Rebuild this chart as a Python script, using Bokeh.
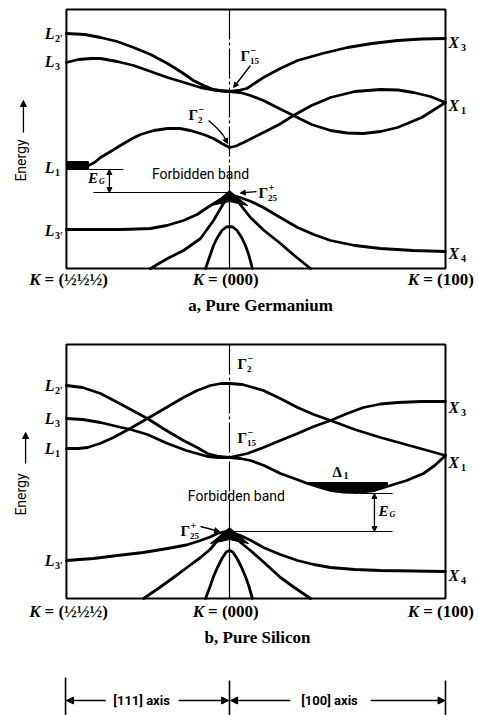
from bokeh.plotting import figure
from bokeh.layouts import column
from bokeh.models import Range1d, Arrow, NormalHead
from bokeh.core.properties import value
from bokeh.embed import file_html
from bokeh.resources import INLINE

# ---------------- k positions of symmetry points ----------------
K_L, K_G, K_X = -0.755, 0.0, 1.0

# ---------------- Germanium bands (k, energy in arbitrary units) ----------------
ge_frame_E = [-7.4, 18.5]
ge_L2p_k = [-0.755, -0.67, -0.597, -0.52, -0.444, -0.365, -0.287, -0.22, -0.167, -0.12, -0.074, -0.035, 0]
ge_L2p_E = [16.1, 16.0, 15.7, 15.3, 14.7, 14.0, 13.1, 12.2, 11.4, 10.9, 10.5, 10.35, 10.3]
ge_L3_k = [-0.755, -0.70, -0.64, -0.597, -0.52, -0.444, -0.365, -0.287, -0.21, -0.134, -0.07, 0]
ge_L3_E = [13.2, 13.5, 13.6, 13.6, 13.3, 12.9, 12.3, 11.7, 11.2, 10.7, 10.45, 10.3]
ge_X3_k = [0, 0.04, 0.08, 0.157, 0.235, 0.315, 0.43, 0.546, 0.66, 0.778, 0.89, 1.0]
ge_X3_E = [10.3, 10.4, 10.6, 11.7, 12.6, 13.4, 14.1, 14.7, 15.1, 15.4, 15.55, 15.6]
ge_G15X1_k = [0, 0.05, 0.097, 0.157, 0.23, 0.296, 0.38, 0.468, 0.545, 0.62, 0.70, 0.778, 0.89, 1.0]
ge_G15X1_E = [10.3, 10.2, 9.9, 9.4, 8.6, 7.9, 7.0, 6.4, 6.15, 6.1, 6.3, 6.7, 7.7, 9.2]
ge_G2X1_k = [0, 0.03, 0.065, 0.157, 0.23, 0.296, 0.38, 0.468, 0.58, 0.699, 0.78, 0.852, 0.93, 1.0]
ge_G2X1_E = [4.7, 4.85, 5.2, 6.2, 7.0, 7.9, 8.9, 9.7, 10.3, 10.5, 10.45, 10.2, 9.8, 9.2]
ge_L1_k = [-0.653, -0.625, -0.597, -0.55, -0.505, -0.45, -0.412, -0.35, -0.287, -0.23, -0.181, -0.12, -0.074, -0.035, 0]
ge_L1_E = [2.9, 3.2, 3.7, 4.3, 4.9, 5.6, 6.0, 6.4, 6.6, 6.6, 6.4, 6.0, 5.6, 5.1, 4.7]
ge_L1bar_k = [-0.755, -0.653]
ge_L1bar_E = [2.5, 3.3]
ge_L3p_k = [-0.755, -0.6, -0.505, -0.43, -0.366, -0.29, -0.213, -0.15, -0.102, -0.05, 0]
ge_L3p_E = [-3.5, -3.5, -3.5, -3.45, -3.4, -3.1, -2.6, -2.0, -1.3, -0.6, 0]
ge_X4_k = [0, 0.05, 0.1, 0.157, 0.235, 0.315, 0.39, 0.468, 0.58, 0.699, 0.85, 1.0]
ge_X4_E = [0, -0.3, -0.7, -1.3, -2.3, -3.3, -4.0, -4.6, -5.1, -5.4, -5.6, -5.7]
ge_V2L_k = [-0.366, -0.287, -0.213, -0.134, -0.074, -0.028, 0]
ge_V2L_E = [-7.4, -6.4, -5.6, -4.4, -2.6, -0.9, -0.1]
ge_V2R_k = [0, 0.046, 0.097, 0.16, 0.236, 0.3, 0.375]
ge_V2R_E = [-0.1, -0.9, -2.3, -3.6, -4.9, -6.1, -7.4]
ge_V3_k = [-0.111, -0.09, -0.074, -0.056, -0.035, -0.015, 0, 0.015, 0.035, 0.056, 0.074, 0.09, 0.106]
ge_V3_E = [-7.4, -6.1, -5.1, -4.3, -3.6, -3.25, -3.2, -3.25, -3.6, -4.3, -5.1, -6.1, -7.4]
ge_blob_k = [-0.085, -0.04, 0, 0.04, 0.085, 0.04, 0, -0.04]
ge_blob_E = [-1.1, -0.35, 0.4, -0.35, -1.1, -0.9, -0.7, -0.9]
ge_EG_top = 2.5
ge_EG_bot = 0.2

# ---------------- Silicon bands ----------------
si_frame_E = [-6.8, 18.6]
si_L2p_k = [-0.755, -0.68, -0.597, -0.5, -0.38, -0.3, -0.213, -0.15, -0.102, -0.05, 0]
si_L2p_E = [14.5, 14.3, 13.7, 12.6, 11.2, 10.1, 9.0, 8.3, 7.7, 7.4, 7.3]
si_L3_k = [-0.755, -0.68, -0.597, -0.52, -0.458, -0.38, -0.287, -0.2, -0.102, -0.05, 0]
si_L3_E = [11.2, 11.1, 10.8, 10.4, 10.1, 9.6, 8.7, 8.0, 7.4, 7.3, 7.3]
si_L1_k = [-0.755, -0.7, -0.657, -0.6, -0.537, -0.46, -0.38, -0.3, -0.213, -0.15, -0.088, -0.04, 0]
si_L1_E = [8.2, 8.2, 8.3, 8.7, 9.3, 10.2, 11.2, 12.2, 13.3, 14.0, 14.5, 14.7, 14.7]
si_G2X1_k = [0, 0.06, 0.157, 0.235, 0.315, 0.39, 0.468, 0.58, 0.699, 0.85, 1.0]
si_G2X1_E = [14.7, 14.6, 14.0, 13.2, 12.3, 11.6, 11.0, 10.1, 9.3, 8.4, 7.5]
si_X3_k = [0, 0.083, 0.157, 0.235, 0.315, 0.39, 0.468, 0.545, 0.62, 0.7, 0.778, 0.89, 1.0]
si_X3_E = [7.3, 7.7, 8.3, 9.0, 9.7, 10.4, 11.0, 11.7, 12.3, 12.65, 12.8, 12.9, 12.9]
si_D1_k = [0, 0.05, 0.097, 0.16, 0.236, 0.3, 0.361, 0.42, 0.468, 0.53, 0.593, 0.67, 0.745, 0.82, 0.898, 0.95, 1.0]
si_D1_E = [7.3, 7.2, 7.0, 6.5, 5.7, 5.2, 4.7, 4.3, 4.0, 3.85, 3.8, 4.0, 4.5, 5.0, 5.7, 6.5, 7.5]
si_lens_k = [0.366, 0.42, 0.468, 0.53, 0.593, 0.67, 0.731, 0.731, 0.366]
si_lens_E = [4.7, 4.3, 4.0, 3.85, 3.8, 4.0, 4.4, 4.8, 4.8]
si_L3p_k = [-0.755, -0.63, -0.519, -0.4, -0.287, -0.2, -0.134, -0.09, -0.056, 0]
si_L3p_E = [-3.0, -2.8, -2.5, -2.2, -1.8, -1.45, -1.0, -0.65, -0.3, 0]
si_X4_k = [0, 0.05, 0.1, 0.157, 0.235, 0.315, 0.39, 0.468, 0.58, 0.699, 0.85, 1.0]
si_X4_E = [-0.1, -0.5, -1.0, -1.7, -2.4, -3.0, -3.4, -3.7, -3.9, -4.0, -4.05, -4.1]
si_V2L_k = [-0.398, -0.33, -0.259, -0.2, -0.134, -0.09, -0.056, -0.025, 0]
si_V2L_E = [-6.8, -5.8, -4.7, -3.75, -2.7, -1.9, -1.0, -0.5, -0.2]
si_V2R_k = [0, 0.046, 0.097, 0.16, 0.236, 0.3, 0.375]
si_V2R_E = [-0.3, -1.1, -2.0, -3.2, -4.7, -5.7, -6.8]
si_V3_k = [-0.111, -0.09, -0.074, -0.056, -0.035, -0.015, 0, 0.015, 0.035, 0.056, 0.074, 0.09, 0.106]
si_V3_E = [-6.8, -5.6, -4.6, -3.7, -2.8, -2.15, -2.0, -2.15, -2.8, -3.7, -4.6, -5.6, -6.8]
si_blob_k = [-0.088, -0.04, 0, 0.04, 0.088, 0.04, 0, -0.04]
si_blob_E = [-1.3, -0.45, 0.3, -0.45, -1.3, -1.1, -0.9, -1.1]
si_EG_top = 3.7
si_EG_bot = -0.1

# ---------------- labels ----------------
ge_left_main = ["L", "L", "L", "L"]
ge_left_sub = ["2\u2032", "3", "1", "3\u2032"]
ge_left_E = [16.1, 13.3, 2.7, -3.6]
ge_right_sub = ["3", "1", "4"]
ge_right_E = [15.2, 8.9, -5.9]
si_left_main = ["L", "L", "L", "L"]
si_left_sub = ["2\u2032", "3", "1", "3\u2032"]
si_left_E = [14.5, 11.2, 8.2, -3.0]
si_right_sub = ["3", "1", "4"]
si_right_E = [12.3, 6.8, -4.5]
k_tick_text = ["= (\u00bd\u00bd\u00bd)", "= (000)", "= (100)"]
k_tick_anchor = [-0.875, -0.118, 0.878]

SERIF = "Liberation Serif"
SANS = "Roboto"

X0, X1 = -229 / 216, 250 / 216


def txt(p, x, y, s, size, font=SERIF, style="bold", align="left",
        baseline="middle", xo=0, yo=0, angle=0.0):
    p.text(x=[x], y=[y], text=[s], text_font=value(font),
           text_font_size=value(f"{size}px"), text_font_style=style,
           text_align=align, text_baseline=baseline, x_offset=xo,
           y_offset=yo, angle=angle, text_color="black")


def gamma(p, k, E, sub, sup):
    txt(p, k, E, "\u0393", 15, style="bold")
    txt(p, k, E, sub, 9, style="bold", xo=9.5, yo=5)
    txt(p, k, E, sup, 10, style="bold", xo=10, yo=-5)


def arrow(p, x0, y0, x1, y1, size=6, both=False):
    head = NormalHead(size=size, fill_color="black", line_color="black")
    start = NormalHead(size=size, fill_color="black", line_color="black") if both else None
    p.add_layout(Arrow(end=head, start=start, x_start=x0, y_start=y0,
                       x_end=x1, y_end=y1, line_width=1.3, line_color="black"))


def make_fig(h, y0, y1):
    p = figure(width=479, height=h, x_range=Range1d(X0, X1),
               y_range=Range1d(y0, y1), output_backend="svg",
               toolbar_location=None, x_axis_location=None,
               y_axis_location=None, min_border=0, tools="")
    p.grid.visible = False
    p.outline_line_color = None
    p.background_fill_color = "white"
    p.border_fill_color = "white"
    return p


def panel(p, frame_E, bands_k, bands_E, blob_k, blob_E, left_main, left_sub,
          left_E, right_sub, right_E, kt_E, caption, cap_k, cap_E):
    # frame
    p.quad(left=[K_L], right=[K_X], bottom=[frame_E[0]], top=[frame_E[1]],
           fill_color=None, line_color="black", line_width=2)
    # centre line at Gamma
    p.line([K_G, K_G], [frame_E[1], 0], line_color="black", line_width=1.2,
           line_dash="30 3 3 3")
    p.line([K_G, K_G], [0, frame_E[0]], line_color="black", line_width=1.2)
    # bands
    p.multi_line(xs=bands_k, ys=bands_E, line_color="black", line_width=2.8,
                 line_join="round", line_cap="round")
    p.patch(blob_k, blob_E, fill_color="black", line_color="black", line_width=1)
    # left symmetry labels
    for m, s, e in zip(left_main, left_sub, left_E):
        txt(p, -0.81, e, m, 16, style="bold italic", align="right")
        txt(p, -0.81, e, s, 10, style="bold", xo=0.5, yo=5)
    for s, e in zip(right_sub, right_E):
        txt(p, 1.014, e, "X", 16, style="bold italic")
        txt(p, 1.014, e, s, 10, style="bold", xo=12.5, yo=5)
    # k labels
    for a, t in zip(k_tick_anchor, k_tick_text):
        txt(p, a, kt_E, "K", 17, style="bold italic", align="right")
        txt(p, a, kt_E, t, 17, style="bold", xo=4)
    txt(p, cap_k, cap_E, caption, 17, style="bold", align="center")


# ================= Germanium =================
ge = make_fig(320, -12.6, 19.4)
panel(ge, ge_frame_E,
      [ge_L2p_k, ge_L3_k, ge_X3_k, ge_G15X1_k, ge_G2X1_k, ge_L1_k, ge_L3p_k,
       ge_X4_k, ge_V2L_k, ge_V2R_k, ge_V3_k],
      [ge_L2p_E, ge_L3_E, ge_X3_E, ge_G15X1_E, ge_G2X1_E, ge_L1_E, ge_L3p_E,
       ge_X4_E, ge_V2L_E, ge_V2R_E, ge_V3_E],
      ge_blob_k, ge_blob_E, ge_left_main, ge_left_sub, ge_left_E,
      ge_right_sub, ge_right_E, -8.5, "a, Pure Germanium", 0.144, -11.1)
ge.quad(left=[ge_L1bar_k[0]], right=[ge_L1bar_k[1]], bottom=[ge_L1bar_E[0]],
        top=[ge_L1bar_E[1]], fill_color="black", line_color="black")
# E_G marker
ge.line([-0.653, -0.491], [ge_EG_top, ge_EG_top], line_color="black", line_width=1.2)
ge.line([-0.630, 0], [ge_EG_bot, ge_EG_bot], line_color="black", line_width=1.2)
arrow(ge, -0.556, ge_EG_top, -0.556, ge_EG_bot, size=5, both=True)
txt(ge, -0.655, 1.7, "E", 15, style="bold italic")
txt(ge, -0.655, 1.7, "G", 8, style="bold italic", xo=11, yo=4)
txt(ge, -0.134, 2.1, "Forbidden band", 14, font=SANS, style="normal", align="center")
# Gamma labels
gamma(ge, 0.051, 13.9, "15", "\u2212")
arrow(ge, 0.097, 12.9, 0.019, 10.7, size=5)
gamma(ge, -0.190, 8.0, "2", "\u2212")
ge.line([-0.097, -0.056, -0.028], [7.4, 6.6, 5.9], line_color="black", line_width=1.3)
arrow(ge, -0.028, 5.9, -0.009, 5.1, size=5)
gamma(ge, 0.134, 0.2, "25", "+")
arrow(ge, 0.125, 0.3, 0.05, 0.15, size=5)
# Energy axis label
txt(ge, -0.963, 3.4, "Energy", 14, font=SANS, style="normal", align="center",
    angle=1.5708)
arrow(ge, -0.954, 6.2, -0.954, 9.4, size=6)

# ================= Silicon =================
si = make_fig(330, -12.0, 21.0)
panel(si, si_frame_E,
      [si_L2p_k, si_L3_k, si_L1_k, si_G2X1_k, si_X3_k, si_D1_k, si_L3p_k,
       si_X4_k, si_V2L_k, si_V2R_k, si_V3_k],
      [si_L2p_E, si_L3_E, si_L1_E, si_G2X1_E, si_X3_E, si_D1_E, si_L3p_E,
       si_X4_E, si_V2L_E, si_V2R_E, si_V3_E],
      si_blob_k, si_blob_E, si_left_main, si_left_sub, si_left_E,
      si_right_sub, si_right_E, -8.1, "b, Pure Silicon", 0.130, -10.7)
si.patch(si_lens_k, si_lens_E, fill_color="black", line_color="black")
si.line([0.606, 0.755], [si_EG_top, si_EG_top], line_color="black", line_width=1.2)
si.line([0, 0.755], [si_EG_bot, si_EG_bot], line_color="black", line_width=1.2)
arrow(si, 0.671, si_EG_top, 0.671, si_EG_bot, size=5, both=True)
txt(si, 0.690, 2.0, "E", 15, style="bold italic")
txt(si, 0.690, 2.0, "G", 8, style="bold italic", xo=11, yo=4)
txt(si, 0.032, 3.5, "Forbidden band", 14, font=SANS, style="normal", align="center")
gamma(si, 0.037, 16.7, "2", "\u2212")
gamma(si, 0.037, 9.3, "15", "\u2212")
txt(si, 0.477, 5.9, "\u0394", 15, style="bold")
txt(si, 0.477, 5.9, "1", 10, style="bold", xo=11, yo=4)
gamma(si, -0.227, 0.0, "25", "+")
arrow(si, -0.134, 0.4, -0.046, -0.1, size=5)
txt(si, -0.963, 3.6, "Energy", 14, font=SANS, style="normal", align="center",
    angle=1.5708)
arrow(si, -0.944, 6.7, -0.944, 9.8, size=6)

# ================= axis bracket =================
ax = make_fig(65, 0, 65)
ax.multi_line(xs=[[-0.759, -0.759], [K_G, K_G], [K_X, K_X]],
              ys=[[0, 38], [0, 35], [0, 35]], line_color="black", line_width=1.6)
arrow(ax, -0.573, 15, -0.755, 15, size=7)
arrow(ax, -0.236, 15, -0.004, 15, size=7)
arrow(ax, 0.282, 15, 0.005, 15, size=7)
arrow(ax, 0.653, 15, 0.998, 15, size=7)
txt(ax, -0.407, 15, "[111] axis", 13, font=SANS, style="bold", align="center")
txt(ax, 0.463, 15, "[100] axis", 13, font=SANS, style="bold", align="center")

layout = column(ge, si, ax, spacing=0)
open("out.html", "w").write(file_html(layout, INLINE))
